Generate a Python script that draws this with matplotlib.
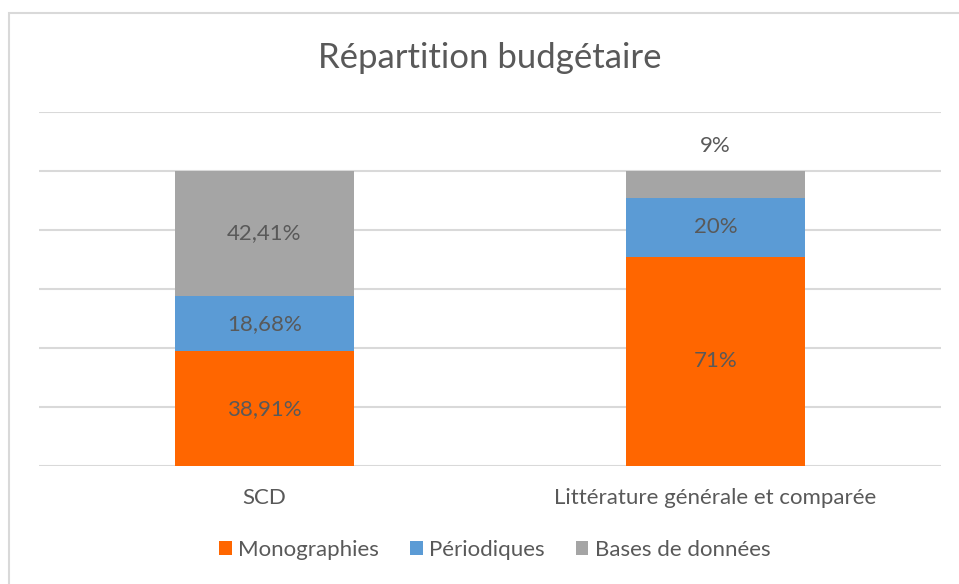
import numpy as np
from matplotlib import pyplot as plt
from matplotlib.patches import Rectangle

plt.rcParams['font.family'] = ['Lato', 'DejaVu Sans']

categories = ['SCD', 'Littérature générale et comparée']
series = ['Monographies', 'Périodiques', 'Bases de données']
values = [
    [38.91, 71.0],   # Monographies
    [18.68, 20.0],   # Périodiques
    [42.41, 9.0],    # Bases de données
]
labels = [
    ['38,91%', '71%'],
    ['18,68%', '20%'],
    ['42,41%', '9%'],
]
colors = ['#FF6600', '#5B9BD5', '#A5A5A5']
txt = '#595959'

fig = plt.figure(figsize=(9.59, 5.84), dpi=100)
fig.patches.append(Rectangle((9/959, -0.01), 1.0, 1 - 13/584 + 0.01,
                             transform=fig.transFigure, fill=False,
                             edgecolor='#D9D9D9', linewidth=1.5))

ax = fig.add_axes([39/959, 1 - 466/584, 902/959, (466 - 112)/584])
x = np.arange(len(categories))
bottom = np.zeros(len(categories))
for i, s in enumerate(series):
    v = np.array(values[i])
    ax.bar(x, v, 0.397, bottom=bottom, color=colors[i], label=s, zorder=2)
    for j in range(len(categories)):
        if v[j] < 12:
            y = bottom[j] + v[j] + 8.5
        else:
            y = bottom[j] + v[j] / 2
        ax.text(x[j], y, labels[i][j], ha='center', va='center',
                fontsize=16, color=txt, zorder=3)
    bottom += v

ax.set_xlim(-0.5, 1.5)
ax.set_ylim(0, 120)
ax.set_yticks(np.arange(0, 121, 20))
ax.yaxis.grid(True, color='#D9D9D9', linewidth=1.5, zorder=0)
ax.set_yticklabels([])
ax.tick_params(axis='y', length=0)
ax.tick_params(axis='x', length=0, pad=16, labelsize=16, labelcolor=txt)
ax.set_xticks(x)
ax.set_xticklabels(categories)
for sp in ax.spines.values():
    sp.set_visible(False)

fig.text(490/959, 1 - 58/584, 'Répartition budgétaire', ha='center',
         va='center', fontsize=25, color=txt)

fig.legend(loc='center', bbox_to_anchor=(495/959, 1 - 550/584), ncol=3,
           frameon=False, fontsize=16, labelcolor=txt, handlelength=0.55,
           handleheight=0.55, handletextpad=0.3, columnspacing=1.4)

plt.savefig('out.png')
